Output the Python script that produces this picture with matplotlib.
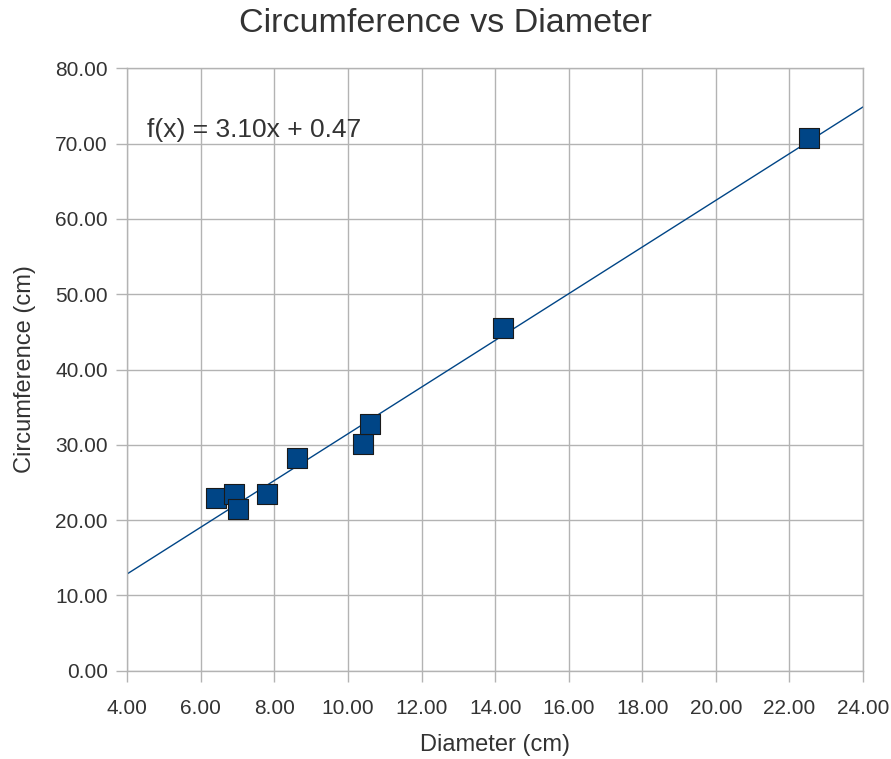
import matplotlib

matplotlib.use("Agg")
import matplotlib.pyplot as plt
import numpy as np

# measured circles: diameter vs circumference (cm)
diameter = [6.41, 6.91, 7.01, 7.81, 8.60, 10.41, 10.61, 14.22, 22.54]
circumference = [22.9, 23.47, 21.43, 23.47, 28.2, 30.1, 32.76, 45.55, 70.7]

# linear trend line as reported on the chart
slope = 3.10
intercept = 0.47

x_ticks = np.arange(4, 24.01, 2)
y_ticks = np.arange(0, 80.01, 10)

GRID = "#b3b3b3"
TEXT = "#333333"
BLUE = "#004586"

plt.rcParams["font.family"] = ["Liberation Sans", "DejaVu Sans"]

fig = plt.figure(figsize=(8.91, 7.59), dpi=100)
ax = fig.add_axes([0.1429, 0.1163, 0.9686 - 0.1429, 0.910 - 0.1163])

line_x = np.array([4, 24])
ax.plot(line_x, slope * line_x + intercept, color=BLUE, lw=1, zorder=2)
ax.scatter(diameter, circumference, marker="s", s=14 ** 2, color=BLUE,
           edgecolors="#1a1a1a", linewidths=0.8, zorder=3)

ax.text(4.54, 71.8, f"f(x) = {slope:.2f}x + {intercept:.2f}",
        fontsize=19, color=TEXT, va="center", ha="left")

ax.set_xlim(4, 24)
ax.set_ylim(0, 80)
ax.set_xticks(x_ticks)
ax.set_yticks(y_ticks)
ax.set_xticklabels([f"{v:.2f}" for v in x_ticks])
ax.set_yticklabels([f"{v:.2f}" for v in y_ticks])
ax.tick_params(axis="both", colors=GRID, labelcolor=TEXT, labelsize=15,
               length=8, width=1)
ax.tick_params(axis="x", pad=12)
ax.tick_params(axis="y", pad=6)
ax.grid(True, color=GRID, lw=1, zorder=0)
ax.set_axisbelow(True)
for sp in ax.spines.values():
    sp.set_color(GRID)
    sp.set_linewidth(1)

ax.set_xlabel("Diameter (cm)", fontsize=17, color=TEXT, labelpad=12)
ax.set_ylabel("Circumference (cm)", fontsize=17, color=TEXT, labelpad=14)
fig.suptitle("Circumference vs Diameter", fontsize=24.5, color=TEXT, y=0.989)

fig.savefig("out.png", dpi=100)
